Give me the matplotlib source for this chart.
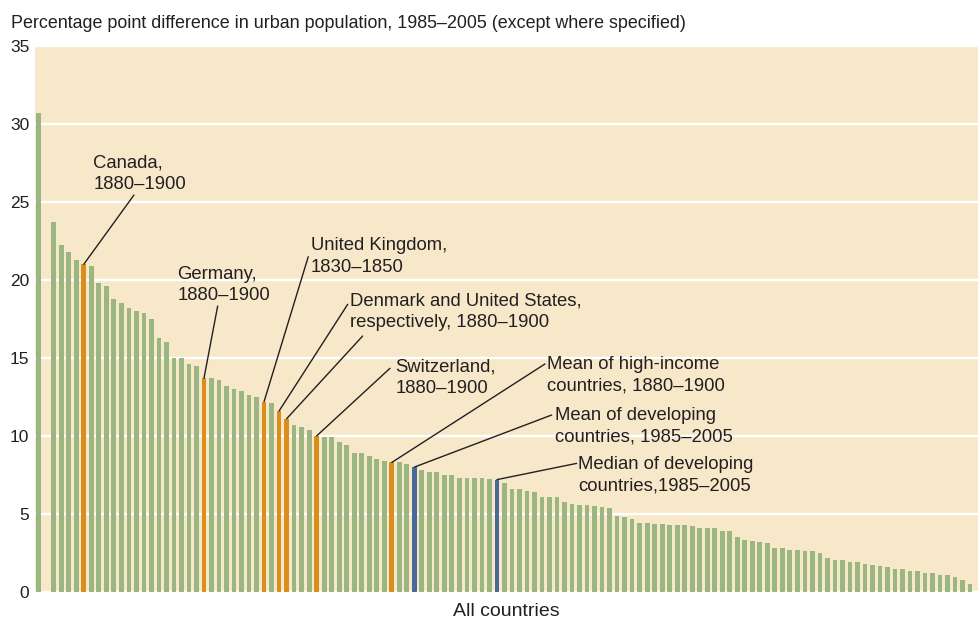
import matplotlib.pyplot as plt
import numpy as np

plt.rcParams['font.family'] = ['Liberation Sans Narrow', 'Liberation Sans', 'DejaVu Sans']

# percentage point change in urban share, sorted; slot 1 is empty in the original
values = [30.7, np.nan, 23.7, 22.2, 21.8, 21.3, 21.0, 20.9, 19.8, 19.6,
          18.8, 18.5, 18.2, 18.0, 17.9, 17.5, 16.3, 16.0, 15.0, 15.0,
          14.6, 14.5, 13.7, 13.7, 13.6, 13.2, 13.0, 12.9, 12.6, 12.5,
          12.2, 12.1, 11.6, 11.1, 10.7, 10.6, 10.4, 10.0, 9.9, 9.9,
          9.6, 9.4, 8.9, 8.9, 8.7, 8.5, 8.4, 8.3, 8.3, 8.2,
          8.0, 7.8, 7.7, 7.7, 7.5, 7.5, 7.3, 7.3, 7.3, 7.3,
          7.25, 7.2, 7.0, 6.6, 6.6, 6.5, 6.4, 6.1, 6.1, 6.1,
          5.75, 5.65, 5.6, 5.55, 5.5, 5.45, 5.35, 4.9, 4.8, 4.7,
          4.45, 4.4, 4.35, 4.33, 4.3, 4.3, 4.3, 4.25, 4.1, 4.1,
          4.1, 3.9, 3.9, 3.55, 3.3, 3.25, 3.2, 3.15, 2.85, 2.8,
          2.7, 2.66, 2.65, 2.64, 2.5, 2.17, 2.05, 2.05, 1.92, 1.9,
          1.79, 1.7, 1.66, 1.63, 1.47, 1.45, 1.35, 1.34, 1.22, 1.21,
          1.09, 1.07, 0.93, 0.78, 0.52]

historical_idx = [6, 22, 30, 32, 33, 37, 47]   # orange
developing_idx = [50, 61]                      # blue

# (text, text position, [(bar index, leader start)])
annotations = [
    ("Canada,\n1880\u20131900", (7.26, 28.05), [(6, (12.67, 25.43))]),
    ("Germany,\n1880\u20131900", (18.44, 20.9), [(22, (23.82, 18.32))]),
    ("United Kingdom,\n1830\u20131850", (36.2, 22.72), [(30, (35.88, 21.48))]),
    ("Denmark and United States,\nrespectively, 1880\u20131900", (41.43, 19.2),
     [(32, (41.13, 18.43)), (33, (43.12, 16.4))]),
    ("Switzerland,\n1880\u20131900", (47.52, 14.98), [(37, (46.76, 14.33))]),
    ("Mean of high-income\ncountries, 1880\u20131900", (67.66, 15.14), [(47, (67.4, 14.61))]),
    ("Mean of developing\ncountries, 1985\u20132005", (68.73, 11.88), [(50, (68.29, 11.34))]),
    ("Median of developing\ncountries,1985\u20132005", (71.83, 8.74), [(61, (71.61, 8.24))]),
]

bg = '#F7E8CA'
green = '#9CB682'
orange = '#DA8E1C'
blue = '#496A98'
ink = '#231f20'

colors = [green] * len(values)
for i in historical_idx:
    colors[i] = orange
for i in developing_idx:
    colors[i] = blue

fig = plt.figure(figsize=(9.8, 6.23), dpi=100)
ax = fig.add_axes([35 / 980, 31 / 623, 943 / 980, 546.3 / 623])
ax.set_facecolor(bg)

x = np.arange(len(values))
ax.bar(x, values, width=0.63, color=colors, zorder=2)

ax.set_xlim(-0.5, 125.05)
ax.set_ylim(0, 35)
ax.set_yticks(range(0, 36, 5))
ax.set_xticks([])
ax.grid(axis='y', color='white', lw=1.7, zorder=1)
for s in ax.spines.values():
    s.set_visible(False)
ax.tick_params(axis='y', length=0, pad=4, labelsize=12.5, labelcolor=ink)

for label, (tx, ty), leaders in annotations:
    ax.text(tx, ty, label, ha='left', va='top', fontsize=13.3, color=ink,
            linespacing=1.35, zorder=4)
    for idx, start in leaders:
        ax.annotate('', xy=(idx, values[idx]), xytext=start,
                    arrowprops=dict(arrowstyle='-', color=ink, lw=1,
                                    shrinkA=0, shrinkB=0), zorder=3)

ax.set_xlabel('All countries', fontsize=14, color=ink, labelpad=8)
fig.text(11 / 980, 1 - 28 / 623,
         'Percentage point difference in urban population, 1985\u20132005 (except where specified)',
         ha='left', va='baseline', fontsize=12.9, color=ink)

fig.savefig('out.png', dpi=100, facecolor='white')
